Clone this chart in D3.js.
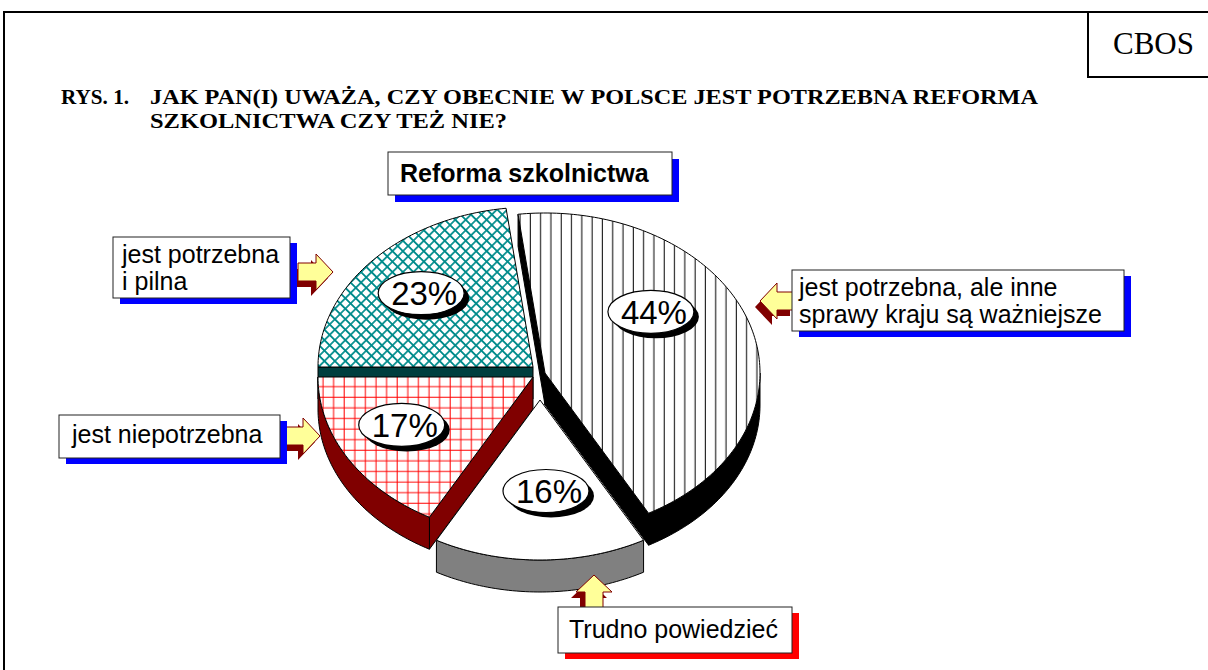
<!DOCTYPE html>
<html>
<head>
<meta charset="utf-8">
<script src="https://cdn.jsdelivr.net/npm/d3@7"></script>
<style>
	body { margin: 0; background: #fff; }
</style>
</head>
<body>
<div id="chart"></div>
<script>
// Chart data
const categories = ['jest potrzebna i pilna', 'jest potrzebna, ale inne sprawy kraju są ważniejsze', 'Trudno powiedzieć', 'jest niepotrzebna'];
const values = [23, 44, 16, 17];
const percentLabels = ['23%', '44%', '16%', '17%'];
const calloutLines = [
	['jest potrzebna', 'i pilna'],
	['jest potrzebna, ale inne', 'sprawy kraju są ważniejsze'],
	['Trudno powiedzieć'],
	['jest niepotrzebna']
];
const chartTitle = 'Reforma szkolnictwa';
const figureNo = 'RYS. 1.';
const questionLines = ['JAK PAN(I) UWAŻA, CZY OBECNIE W POLSCE JEST POTRZEBNA REFORMA', 'SZKOLNICTWA CZY TEŻ NIE?'];

const width = 1208;
const height = 670;

// pie geometry (elliptic 3D pie)
const cx = 535, cy = 372, rx = 215, ry = 160, depth = 32;
const explode = [[-2, -5], [10, 1], [5, 28], [-2, 5]];
const labelNudge = [[-7, -5], [-27, -29], [6, -13], [-11, -5]];
const drawOrder = [0, 1, 3, 2];
const sliceFill = ['url(#pTeal)', 'url(#pVert)', '#ffffff', 'url(#pRed)'];
const sliceWall = ['#003f3f', '#000000', '#808080', '#800000'];

// callout boxes: [x, y, w, h], shadow colour, arrow tip and direction
const boxes = [
	{ r: [113, 237, 177, 61], shadow: '#0000ff', tx: 122, base: 263, tip: [333, 272], dir: 0 },
	{ r: [792, 270, 332, 61], shadow: '#0000ff', tx: 799, base: 296, tip: [760, 301], dir: 180 },
	{ r: [558, 607, 234, 46], shadow: '#ff0000', tx: 569, base: 638, tip: [594, 575], dir: -90 },
	{ r: [59, 415, 221, 43], shadow: '#0000ff', tx: 72, base: 443, tip: [320, 436], dir: 0 }
];

const svg = d3
	.select('#chart')
	.append('svg')
	.attr('width', width)
	.attr('height', height)
	.style('display', 'block');

const defs = svg.append('defs');

// teal diamond cross-hatch
const pTeal = defs.append('pattern')
	.attr('id', 'pTeal')
	.attr('patternUnits', 'userSpaceOnUse')
	.attr('width', 7.4).attr('height', 7.4)
	.attr('patternTransform', 'rotate(45)');
pTeal.append('rect').attr('width', 7.4).attr('height', 7.4).attr('fill', '#fff');
pTeal.append('path').attr('d', 'M0,3.7H7.4M3.7,0V7.4').attr('stroke', '#008b8b').attr('stroke-width', 1.7);

// vertical lines
const pVert = defs.append('pattern')
	.attr('id', 'pVert')
	.attr('patternUnits', 'userSpaceOnUse')
	.attr('width', 10.3).attr('height', 10);
pVert.append('rect').attr('width', 10.3).attr('height', 10).attr('fill', '#fff');
pVert.append('path').attr('d', 'M5,0V10').attr('stroke', '#000').attr('stroke-width', 1);

// red grid
const pRed = defs.append('pattern')
	.attr('id', 'pRed')
	.attr('patternUnits', 'userSpaceOnUse')
	.attr('width', 10.6).attr('height', 10.6);
pRed.append('rect').attr('width', 10.6).attr('height', 10.6).attr('fill', '#fff');
pRed.append('path').attr('d', 'M0,5H10.6M5,0V10.6').attr('stroke', '#ff0000').attr('stroke-width', 1);

// frame
svg.append('path')
	.attr('d', `M4,${height}V12H${width}`)
	.attr('fill', 'none').attr('stroke', '#000').attr('stroke-width', 2);
svg.append('path')
	.attr('d', `M1088,12V77H${width}`)
	.attr('fill', 'none').attr('stroke', '#000').attr('stroke-width', 2);
svg.append('text')
	.attr('x', 1113).attr('y', 54)
	.style('font', '31px "Liberation Serif", serif')
	.text('CBOS');

// figure title
const serifBold = 'bold 22px "Liberation Serif", serif';
svg.append('text').attr('x', 61).attr('y', 104)
	.attr('textLength', 68).attr('lengthAdjust', 'spacingAndGlyphs')
	.style('font', serifBold).text(figureNo);
svg.append('text').attr('x', 150).attr('y', 104)
	.attr('textLength', 888).attr('lengthAdjust', 'spacingAndGlyphs')
	.style('font', serifBold).text(questionLines[0]);
svg.append('text').attr('x', 150).attr('y', 128)
	.attr('textLength', 357).attr('lengthAdjust', 'spacingAndGlyphs')
	.style('font', serifBold).text(questionLines[1]);

// pie
const pie = d3.pie().sort(null).startAngle(-Math.PI / 2).endAngle(3 * Math.PI / 2);
const arcs = pie(values);

function pt(a, o, dz = 0) {
	return [cx + o[0] + rx * Math.sin(a), cy + o[1] - ry * Math.cos(a) + dz];
}
function arcPts(a0, a1, o, dz = 0) {
	const n = Math.max(2, Math.ceil(Math.abs(a1 - a0) / 0.02));
	return d3.range(n + 1).map((i) => pt(a0 + ((a1 - a0) * i) / n, o, dz));
}
const line = d3.line();
const poly = (pts) => line(pts) + 'Z';

const pieG = svg.append('g');

drawOrder.forEach((i) => {
	const d = arcs[i];
	const o = explode[i];
	const apex = [cx + o[0], cy + o[1]];
	const apexLow = [apex[0], apex[1] + depth];
	const g = pieG.append('g');

	// radial side faces
	[[d.startAngle, Math.sin(d.startAngle) < 0], [d.endAngle, Math.sin(d.endAngle) > 0]].forEach(([a, vis]) => {
		if (!vis) return;
		g.append('path')
			.attr('d', poly([apex, pt(a, o), pt(a, o, depth), apexLow]))
			.attr('fill', sliceWall[i]).attr('stroke', '#000').attr('stroke-width', 1)
			.attr('stroke-linejoin', 'round');
	});

	// outer wall on the front half
	const b0 = Math.max(d.startAngle, Math.PI / 2);
	const b1 = Math.min(d.endAngle, 3 * Math.PI / 2);
	if (b1 > b0) {
		const top = arcPts(b0, b1, o);
		const bottom = arcPts(b1, b0, o, depth);
		g.append('path')
			.attr('d', poly(top.concat(bottom)))
			.attr('fill', sliceWall[i]).attr('stroke', '#000').attr('stroke-width', 1)
			.attr('stroke-linejoin', 'round');
	}

	// top face
	g.append('path')
		.attr('d', poly([apex].concat(arcPts(d.startAngle, d.endAngle, o))))
		.attr('fill', sliceFill[i]).attr('stroke', '#000').attr('stroke-width', 1)
		.attr('stroke-linejoin', 'round');
});

// percentage labels
arcs.forEach((d, i) => {
	const mid = (d.startAngle + d.endAngle) / 2;
	const o = explode[i];
	const x = cx + o[0] + 0.65 * rx * Math.sin(mid) + labelNudge[i][0];
	const y = cy + o[1] - 0.65 * ry * Math.cos(mid) + labelNudge[i][1];
	const g = svg.append('g').attr('transform', `translate(${x},${y})`);
	g.append('ellipse').attr('cx', 5).attr('cy', 5).attr('rx', 43).attr('ry', 21.5).attr('fill', '#000');
	g.append('ellipse').attr('rx', 43).attr('ry', 21.5).attr('fill', '#fff').attr('stroke', '#000').attr('stroke-width', 1.2);
	g.append('text')
		.attr('x', 3).attr('y', 12)
		.attr('text-anchor', 'middle')
		.style('font', '33px "Liberation Sans", Arial, sans-serif')
		.text(percentLabels[i]);
});

// 3D block arrows
const arrowShape = [[-35, -9], [-17, -9], [-17, -18], [0, 0], [-17, 18], [-17, 9], [-35, 9]];
boxes.forEach((b) => {
	const g = svg.append('g');
	g.append('path')
		.attr('d', poly(arrowShape))
		.attr('transform', `translate(${b.tip[0] - 5},${b.tip[1] + 6}) rotate(${b.dir})`)
		.attr('fill', '#800000');
	g.append('path')
		.attr('d', poly(arrowShape))
		.attr('transform', `translate(${b.tip[0]},${b.tip[1]}) rotate(${b.dir})`)
		.attr('fill', '#ffff99').attr('stroke', '#800000').attr('stroke-width', 1);
});

// callout boxes
const sans = '25px "Liberation Sans", Arial, sans-serif';
boxes.forEach((b, i) => {
	const [x, y, w, h] = b.r;
	svg.append('rect').attr('x', x + 7).attr('y', y + 6).attr('width', w).attr('height', h).attr('fill', b.shadow);
	svg.append('rect').attr('x', x).attr('y', y).attr('width', w).attr('height', h)
		.attr('fill', '#fff').attr('stroke', '#222').attr('stroke-width', 1);
	calloutLines[i].forEach((t, k) => {
		svg.append('text').attr('x', b.tx).attr('y', b.base + k * 27)
			.style('font', sans).text(t);
	});
});

// chart title box
svg.append('rect').attr('x', 395).attr('y', 159).attr('width', 284).attr('height', 43).attr('fill', '#0000ff');
svg.append('rect').attr('x', 388).attr('y', 152).attr('width', 284).attr('height', 43)
	.attr('fill', '#fff').attr('stroke', '#222').attr('stroke-width', 1);
svg.append('text').attr('x', 400).attr('y', 182)
	.style('font', 'bold 25px "Liberation Sans", Arial, sans-serif')
	.text(chartTitle);
</script>
</body>
</html>
